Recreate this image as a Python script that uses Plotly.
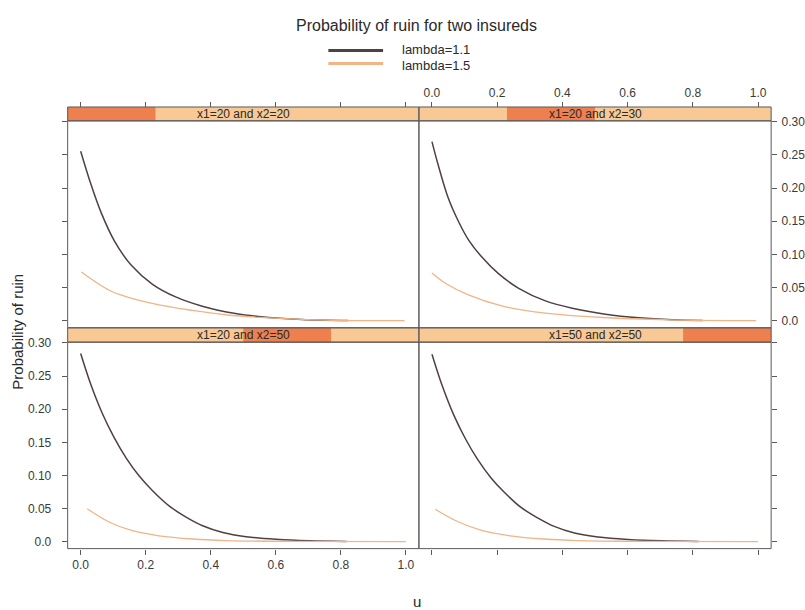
import plotly.graph_objects as go

W, H = 805, 610

# ---------------- data ----------------
panel_labels = ["x1=20 and x2=20", "x1=20 and x2=30", "x1=20 and x2=50", "x1=50 and x2=50"]
series_names = ["lambda=1.1", "lambda=1.5"]
series_colors = ["#4f4043", "#f0b487"]

x_ticks = [0.0, 0.2, 0.4, 0.6, 0.8, 1.0]
x_tick_labels = ["0.0", "0.2", "0.4", "0.6", "0.8", "1.0"]
y_ticks = [0.0, 0.05, 0.10, 0.15, 0.20, 0.25, 0.30]
y_tick_labels = ["0.0", "0.05", "0.10", "0.15", "0.20", "0.25", "0.30"]

# panel 1: x1=20, x2=20
u_p1_l11 = [0, 0.032, 0.063, 0.104, 0.155, 0.221, 0.292, 0.374, 0.476, 0.578, 0.68, 0.823]
p_p1_l11 = [0.2555, 0.205, 0.163, 0.120, 0.084, 0.055, 0.036, 0.022, 0.011, 0.005, 0.002, 0.0005]
u_p1_l15 = [0.002, 0.088, 0.139, 0.241, 0.343, 0.445, 0.547, 0.751, 0.996]
p_p1_l15 = [0.0736, 0.046, 0.0365, 0.024, 0.0157, 0.0092, 0.0053, 0.0012, 0.0002]

# panel 2: x1=20, x2=30
u_p2_l11 = [0, 0.019, 0.05, 0.081, 0.112, 0.153, 0.204, 0.266, 0.348, 0.43, 0.532, 0.635, 0.737, 0.83]
p_p2_l11 = [0.27, 0.235, 0.185, 0.150, 0.122, 0.096, 0.071, 0.049, 0.030, 0.019, 0.010, 0.0045, 0.0015, 0.0005]
u_p2_l15 = [0, 0.04, 0.112, 0.214, 0.348, 0.522, 0.727, 0.994]
p_p2_l15 = [0.072, 0.057, 0.039, 0.0225, 0.0115, 0.005, 0.0015, 0.0002]

# panel 3: x1=20, x2=50
u_p3_l11 = [0, 0.031, 0.067, 0.103, 0.139, 0.18, 0.221, 0.272, 0.324, 0.375, 0.437, 0.509, 0.601, 0.704, 0.817]
p_p3_l11 = [0.284, 0.2375, 0.193, 0.157, 0.127, 0.099, 0.077, 0.054, 0.037, 0.024, 0.0138, 0.0075, 0.0035, 0.0013, 0.0004]
u_p3_l15 = [0.02, 0.087, 0.159, 0.241, 0.344, 0.447, 0.653, 1.0]
p_p3_l15 = [0.0496, 0.0297, 0.0165, 0.0088, 0.004, 0.0017, 0.0005, 0.0001]

# panel 4: x1=50, x2=50
u_p4_l11 = [0, 0.031, 0.067, 0.103, 0.139, 0.18, 0.221, 0.272, 0.324, 0.375, 0.437, 0.509, 0.601, 0.704, 0.817]
p_p4_l11 = [0.283, 0.236, 0.191, 0.155, 0.125, 0.097, 0.075, 0.052, 0.036, 0.023, 0.013, 0.007, 0.0033, 0.0012, 0.0004]
u_p4_l15 = [0.01, 0.08, 0.155, 0.24, 0.344, 0.447, 0.653, 1.0]
p_p4_l15 = [0.049, 0.030, 0.0165, 0.0088, 0.004, 0.0017, 0.0005, 0.0001]

panel_series = [
    [(u_p1_l11, p_p1_l11), (u_p1_l15, p_p1_l15)],
    [(u_p2_l11, p_p2_l11), (u_p2_l15, p_p2_l15)],
    [(u_p3_l11, p_p3_l11), (u_p3_l15, p_p3_l15)],
    [(u_p4_l11, p_p4_l11), (u_p4_l15, p_p4_l15)],
]

# ---------------- layout geometry (pixels) ----------------
def px(x):
    return x / W

def py(y):
    return 1 - y / H

X_L = (68, 421)
X_R = (421, 775)
TOP = dict(strip=(102, 116), panel=(116, 325))
BOT = dict(strip=(325, 339.5), panel=(339.5, 548))

# panel order: 1 TL, 2 TR, 3 BL, 4 BR ; axis index: BL=1, BR=2, TL=3, TR=4
panels = [
    dict(xs=X_L, row=TOP, ax=3, level=0),
    dict(xs=X_R, row=TOP, ax=4, level=1),
    dict(xs=X_L, row=BOT, ax=1, level=2),
    dict(xs=X_R, row=BOT, ax=2, level=3),
]

XR = [-0.04, 1.04]
YR = [-0.0105, 0.3012]
FONT = "Liberation Sans, Arial, sans-serif"
AX_COL = "#5a5a5a"
TXT_COL = "#3a3a3a"

fig = go.Figure()
shapes = []
annotations = []

for i, pn in enumerate(panels):
    a = pn["ax"]
    xs = "x" if a == 1 else f"x{a}"
    ys = "y" if a == 1 else f"y{a}"
    for j, (uu, pp) in enumerate(panel_series[i]):
        fig.add_trace(go.Scatter(
            x=uu, y=pp, mode="lines", xaxis=xs, yaxis=ys,
            line=dict(color=series_colors[j], width=1.5 if j == 0 else 1.3, shape="spline", smoothing=1.0),
            showlegend=False, hoverinfo="skip"))

    x0, x1 = pn["xs"]
    s0, s1 = pn["row"]["strip"]
    p0, p1 = pn["row"]["panel"]
    shapes.append(dict(type="rect", xref="paper", yref="paper",
                       x0=px(x0), x1=px(x1), y0=py(s1), y1=py(s0),
                       fillcolor="#f8c994", line=dict(width=0), layer="below"))
    w4 = (x1 - x0) / 4
    lv = pn["level"]
    shapes.append(dict(type="rect", xref="paper", yref="paper",
                       x0=px(x0 + lv * w4), x1=px(x0 + (lv + 1) * w4), y0=py(s1), y1=py(s0),
                       fillcolor="#ee8050", line=dict(width=0), layer="below"))
    shapes.append(dict(type="rect", xref="paper", yref="paper",
                       x0=px(x0), x1=px(x1), y0=py(s1), y1=py(s0),
                       line=dict(color=AX_COL, width=1), fillcolor="rgba(0,0,0,0)"))
    shapes.append(dict(type="rect", xref="paper", yref="paper",
                       x0=px(x0), x1=px(x1), y0=py(p1), y1=py(p0),
                       line=dict(color=AX_COL, width=1), fillcolor="rgba(0,0,0,0)"))
    annotations.append(dict(text=panel_labels[i], xref="paper", yref="paper",
                            x=px((x0 + x1) / 2), y=py((s0 + s1) / 2 + 0.5), showarrow=False,
                            xanchor="center", yanchor="middle",
                            font=dict(family=FONT, size=12, color="#2a2a2a")))

common_x = dict(range=XR, tickvals=x_ticks, ticktext=x_tick_labels, ticks="outside",
                ticklen=5, tickwidth=1, tickcolor=AX_COL, showgrid=False, zeroline=False,
                showline=False, tickfont=dict(family=FONT, size=12, color=TXT_COL))
common_y = dict(range=YR, tickvals=y_ticks, ticktext=y_tick_labels, ticks="outside",
                ticklen=5, tickwidth=1, tickcolor=AX_COL, showgrid=False, zeroline=False,
                showline=False, tickfont=dict(family=FONT, size=12, color=TXT_COL))

fig.update_layout(
    xaxis=dict(common_x, domain=[px(X_L[0]), px(X_L[1])], anchor="y", side="bottom", showticklabels=True),
    xaxis2=dict(common_x, domain=[px(X_R[0]), px(X_R[1])], anchor="y2", side="bottom", showticklabels=False),
    xaxis3=dict(common_x, domain=[px(X_L[0]), px(X_L[1])], anchor="free", position=py(TOP["strip"][0]),
                side="top", showticklabels=False),
    xaxis4=dict(common_x, domain=[px(X_R[0]), px(X_R[1])], anchor="free", position=py(TOP["strip"][0]),
                side="top", showticklabels=True),
    yaxis=dict(common_y, domain=[py(BOT["panel"][1]), py(BOT["panel"][0])], anchor="x", side="left",
               showticklabels=True, ticklabelstandoff=8),
    yaxis2=dict(common_y, domain=[py(BOT["panel"][1]), py(BOT["panel"][0])], anchor="x2", side="right",
                showticklabels=False),
    yaxis3=dict(common_y, domain=[py(TOP["panel"][1]), py(TOP["panel"][0])], anchor="x3", side="left",
                showticklabels=False),
    yaxis4=dict(common_y, domain=[py(TOP["panel"][1]), py(TOP["panel"][0])], anchor="x4", side="right",
                showticklabels=True, ticklabelstandoff=2),
)

# legend (drawn manually, lattice style)
leg_line_y = [45, 58]
leg_text_y = [43.5, 60]
for j, name in enumerate(series_names):
    shapes.append(dict(type="line", xref="paper", yref="paper",
                       x0=px(330), x1=px(385), y0=py(leg_line_y[j]), y1=py(leg_line_y[j]),
                       line=dict(color=series_colors[j], width=3)))
    annotations.append(dict(text=name, xref="paper", yref="paper", x=px(403), y=py(leg_text_y[j]),
                            showarrow=False, xanchor="left", yanchor="middle", borderpad=0,
                            font=dict(family=FONT, size=13, color="#2a2a2a")))

annotations.append(dict(text="Probability of ruin for two insureds", xref="paper", yref="paper",
                        x=px(419), y=py(20), showarrow=False, xanchor="center", yanchor="middle",
                        font=dict(family=FONT, size=16, color="#2a2a2a")))
annotations.append(dict(text="Probability of ruin", xref="paper", yref="paper",
                        x=px(18), y=py(329), showarrow=False, textangle=-90,
                        xanchor="center", yanchor="middle",
                        font=dict(family=FONT, size=15, color="#2a2a2a")))
annotations.append(dict(text="u", xref="paper", yref="paper",
                        x=px(419), y=py(601), showarrow=False, xanchor="center", yanchor="middle",
                        font=dict(family=FONT, size=15, color="#2a2a2a")))

fig.update_layout(
    width=W, height=H, margin=dict(l=0, r=0, t=0, b=0),
    paper_bgcolor="white", plot_bgcolor="white",
    showlegend=False, shapes=shapes, annotations=annotations,
)

fig.write_html("out.html")
